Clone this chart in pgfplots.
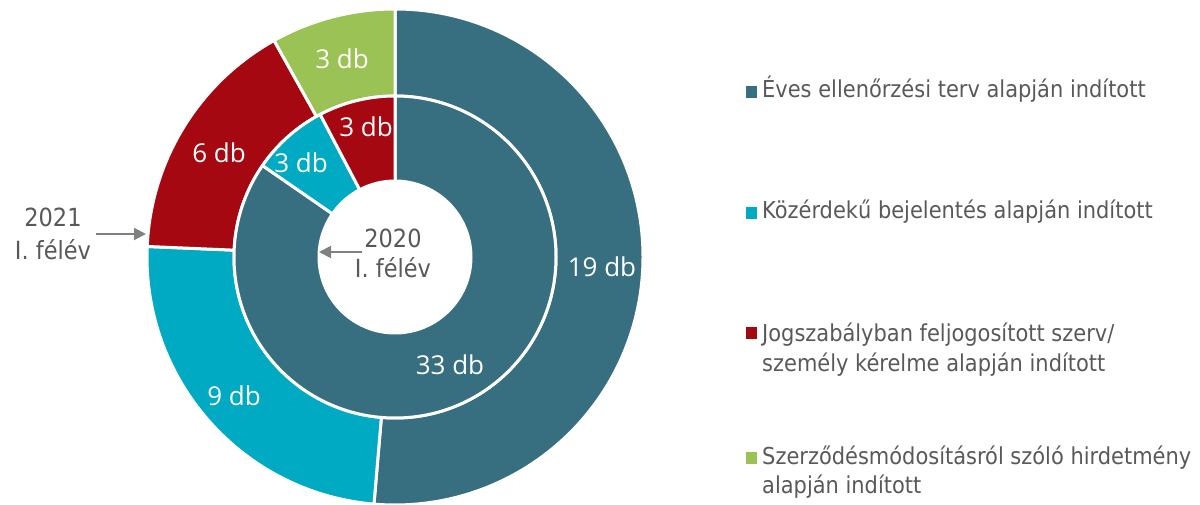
\documentclass[border=0pt]{standalone}
\usepackage{pgfplots}
\pgfplotsset{compat=1.18}
\usetikzlibrary{arrows.meta}
\usepackage{fontspec}
\setmainfont{DejaVu Sans Condensed}
\newfontfamily\labfont{Open Sans}
\definecolor{cteal}{RGB}{55,111,128}
\definecolor{ccyan}{RGB}{0,170,195}
\definecolor{cred}{RGB}{166,8,18}
\definecolor{cgreen}{RGB}{155,194,84}
\definecolor{tgray}{RGB}{89,89,89}
\definecolor{agray}{RGB}{128,128,128}
% ring: #1 = list value/colour, #2 = total, #3 = inner radius, #4 = outer radius
\newcommand{\ring}[4]{%
  \gdef\cum{0}%
  \foreach \v/\c in {#1} {%
    \pgfmathsetmacro\aone{90-360*\cum/#2}%
    \pgfmathsetmacro\atwo{90-360*(\cum+\v)/#2}%
    \filldraw[fill=\c, draw=white, line width=3pt, line join=round]
      (\aone:#4pt) arc[start angle=\aone, end angle=\atwo, radius=#4pt]
      -- (\atwo:#3pt) arc[start angle=\atwo, end angle=\aone, radius=#3pt] -- cycle;
    \pgfmathsetmacro\newcum{\cum+\v}%
    \global\let\cum\newcum
  }%
}
\begin{document}
\begin{tikzpicture}
\useasboundingbox (0,0) rectangle (1200pt,504pt);
\begin{axis}[x=1pt, y=1pt, xmin=0, xmax=1200, ymin=0, ymax=504,
  at={(0,0)}, anchor=south west, hide axis, clip=false]
\pgfplotsextra{%
  \begin{scope}[shift={(axis cs:395,247)}]
    % 2021 I. felev (outer ring): 19, 9, 6, 3
    \ring{19/cteal, 9/ccyan, 6/cred, 3/cgreen}{37}{161}{248}
    % 2020 I. felev (inner ring): 33, 3, 3
    \ring{33/cteal, 3/ccyan, 3/cred}{39}{76}{161}
  \end{scope}
}
% data labels
\begin{scope}[every node/.style={text=white, font=\labfont\fontsize{26}{30}\selectfont, anchor=base}]
\node at (axis cs:602,227) {19 db};
\node at (axis cs:234,99) {9 db};
\node at (axis cs:219,341) {6 db};
\node at (axis cs:342,435) {3 db};
\node at (axis cs:450,129) {33 db};
\node at (axis cs:301,331) {3 db};
\node at (axis cs:366,367) {3 db};
\end{scope}
% ring names
\begin{scope}[every node/.style={text=tgray, font=\fontsize{25}{30}\selectfont, anchor=base}]
\node at (axis cs:53,277) {2021};
\node at (axis cs:53,244) {I. félév};
\node at (axis cs:393,256) {2020};
\node at (axis cs:393,226) {I. félév};
\end{scope}
\draw[agray, line width=2pt, -{Triangle[length=12pt,width=12pt]}] (axis cs:96,270) -- (axis cs:146,270);
\draw[agray, line width=2pt, -{Triangle[length=12pt,width=12pt]}] (axis cs:362,252) -- (axis cs:319,252);
% legend
\begin{scope}[every node/.style={text=tgray, font=\fontsize{23.3}{30}\selectfont, anchor=base west, align=left, inner sep=0pt}]
\fill[cteal] (axis cs:746,406) rectangle (axis cs:757,418);
\node at (axis cs:762,406) {Éves ellenőrzési terv alapján indított};
\fill[ccyan] (axis cs:746,285) rectangle (axis cs:757,297);
\node at (axis cs:762,285) {Közérdekű bejelentés alapján indított};
\fill[cred] (axis cs:746,165) rectangle (axis cs:757,177);
\node at (axis cs:762,162) {Jogszabályban feljogosított szerv/};
\node at (axis cs:762,132) {személy kérelme alapján indított};
\fill[cgreen] (axis cs:746,40) rectangle (axis cs:757,52);
\node at (axis cs:762,40) {Szerződésmódosításról szóló hirdetmény};
\node at (axis cs:762,11) {alapján indított};
\end{scope}
\end{axis}
\end{tikzpicture}
\end{document}
